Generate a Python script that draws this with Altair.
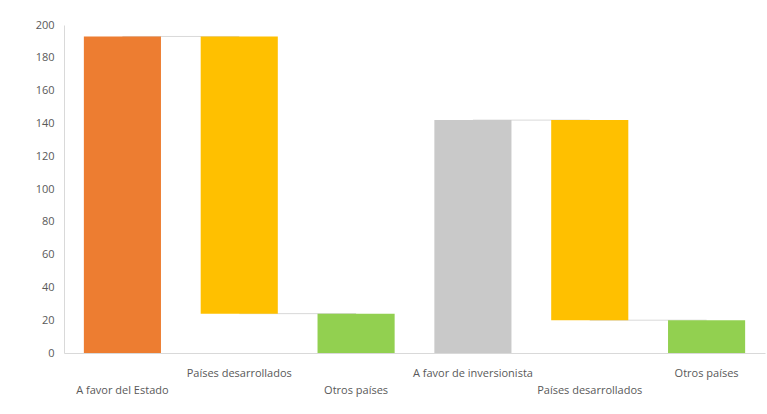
import altair as alt
import pandas as pd

keys = ["k0", "k1", "k2", "k3", "k4", "k5"]
labels = ["A favor del Estado", "Países desarrollados", "Otros países",
          "A favor de inversionista", "Países desarrollados", "Otros países"]
lower_row = [True, False, True, False, True, False]
starts = [0, 24, 0, 0, 20, 0]
ends = [193, 193, 24, 142, 142, 20]
colors = ["#ED7D31", "#FFC000", "#92D050", "#C9C9C9", "#FFC000", "#92D050"]

conn_from = ["k0", "k1", "k3", "k4"]
conn_to = ["k1", "k2", "k4", "k5"]
conn_val = [193, 24, 142, 20]

bars = pd.DataFrame({"key": keys, "label": labels, "start": starts, "end": ends, "color": colors})
conns = pd.DataFrame({"from": conn_from, "to": conn_to, "v": conn_val})

label_map = "{" + ",".join(
    f"'{k}': {('[\"\", \"' + l + '\"]') if low else ('\"' + l + '\"')}"
    for k, l, low in zip(keys, labels, lower_row)
) + "}"

xscale = alt.Scale(domain=keys, paddingInner=0.34, paddingOuter=0.17)
yscale = alt.Scale(domain=[0, 200])

xaxis = alt.Axis(
    title=None, ticks=False, labelAngle=0, domainColor="#D9D9D9",
    labelExpr=label_map + "[datum.value]", labelPadding=14,
    labelBaseline="top", labelLineHeight=17, labelColor="#595959",
    labelFontSize=11, labelFont="Open Sans",
)
yaxis = alt.Axis(
    title=None, ticks=False, grid=False, values=list(range(0, 201, 20)),
    domainColor="#D9D9D9", labelPadding=10, labelColor="#595959",
    labelFontSize=11, labelFont="Open Sans",
)

connectors = alt.Chart(conns).mark_rule(color="#D9D9D9", strokeWidth=1).encode(
    x=alt.X("from:N", scale=xscale, axis=xaxis),
    x2="to:N",
    y=alt.Y("v:Q", scale=yscale, axis=yaxis),
)

barl = alt.Chart(bars).mark_bar().encode(
    x=alt.X("key:N", scale=xscale, axis=xaxis, sort=keys),
    y=alt.Y("start:Q", scale=yscale, axis=yaxis),
    y2="end:Q",
    color=alt.Color("color:N", scale=None, legend=None),
)

chart = alt.layer(connectors, barl).properties(
    width=701, height=328,
    autosize=alt.AutoSizeParams(type="none"),
    padding={"left": 64, "top": 25, "right": 2, "bottom": 61},
    background="white",
).configure_view(stroke=None)

chart.save("out.html", embed_options={"renderer": "svg", "actions": False})
